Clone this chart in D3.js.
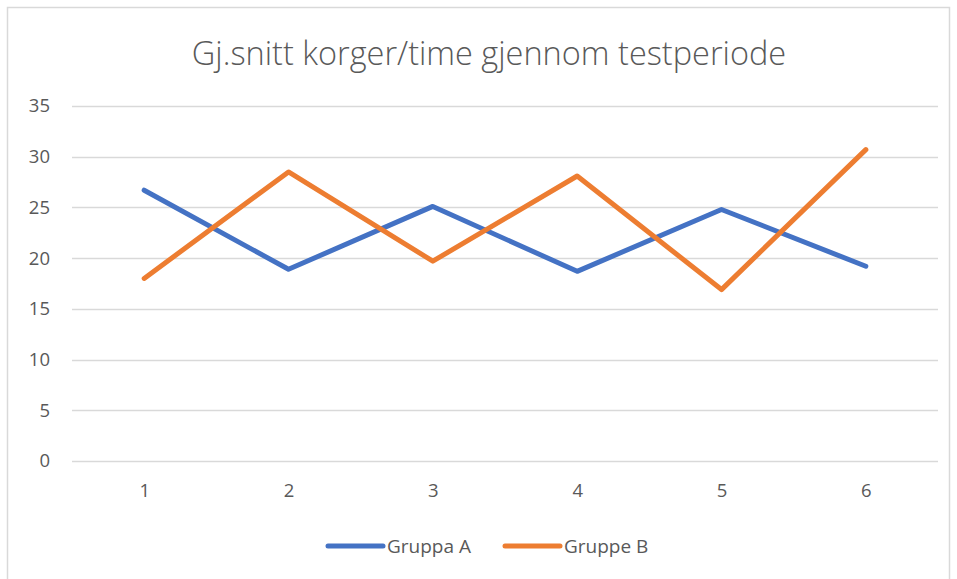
<!DOCTYPE html>
<html>
<head>
<meta charset="utf-8">
<script src="https://cdn.jsdelivr.net/npm/d3@7"></script>
<style>
  body { margin: 0; background: #fff; }
  text { font-family: "Open Sans", "Liberation Sans", sans-serif; fill: #595959; }
</style>
</head>
<body>
<div id="chart"></div>
<script>
var categories = ["1", "2", "3", "4", "5", "6"];
var gruppaA = [26.7, 18.9, 25.1, 18.7, 24.8, 19.2];
var gruppeB = [18.0, 28.5, 19.7, 28.1, 16.9, 30.7];
var yTicks = [0, 5, 10, 15, 20, 25, 30, 35];
var seriesNames = ["Gruppa A", "Gruppe B"];
var colors = ["#4472C4", "#ED7D31"];

var width = 957;
var height = 579;
var margin = { top: 106, right: 19, bottom: 118, left: 72 };

var svg = d3.select("#chart")
  .append("svg")
  .attr("width", width)
  .attr("height", height);

// chart border
svg.append("rect")
  .attr("x", 7.5)
  .attr("y", 7.5)
  .attr("width", 942)
  .attr("height", 580)
  .attr("fill", "#fff")
  .attr("stroke", "#d9d9d9")
  .attr("stroke-width", 1.5);

var x = d3.scalePoint()
  .domain(categories)
  .range([margin.left, width - margin.right])
  .padding(0.5);

var y = d3.scaleLinear()
  .domain([0, 35])
  .range([height - margin.bottom, margin.top]);

// gridlines
svg.append("g")
  .selectAll("line")
  .data(yTicks)
  .enter()
  .append("line")
  .attr("x1", margin.left)
  .attr("x2", width - margin.right)
  .attr("y1", function (d) { return Math.round(y(d)) + 0.5; })
  .attr("y2", function (d) { return Math.round(y(d)) + 0.5; })
  .attr("stroke", "#d9d9d9")
  .attr("stroke-width", 1.5);

// y labels
var yAxis = svg.append("g")
  .attr("transform", "translate(" + (margin.left - 22) + ",0)")
  .call(d3.axisLeft(y).tickValues(yTicks).tickSize(0).tickPadding(0));
yAxis.select(".domain").remove();
yAxis.selectAll("text")
  .attr("font-size", "18.5px")
  .attr("fill", "#595959");

// x labels
var xAxis = svg.append("g")
  .attr("transform", "translate(0," + (height - margin.bottom + 20) + ")")
  .call(d3.axisBottom(x).tickSize(0).tickPadding(3));
xAxis.select(".domain").remove();
xAxis.selectAll("text")
  .attr("font-size", "18.5px")
  .attr("fill", "#595959");

// lines
var line = d3.line()
  .x(function (d, i) { return x(categories[i]); })
  .y(function (d) { return y(d); });

[gruppaA, gruppeB].forEach(function (values, i) {
  svg.append("path")
    .datum(values)
    .attr("d", line)
    .attr("fill", "none")
    .attr("stroke", colors[i])
    .attr("stroke-width", 5)
    .attr("stroke-linejoin", "round")
    .attr("stroke-linecap", "round");
});

// title
svg.append("text")
  .attr("x", 489)
  .attr("y", 65)
  .attr("text-anchor", "middle")
  .attr("font-size", "32.5px")
  .attr("font-weight", 300)
  .attr("fill", "#595959")
  .text("Gj.snitt korger/time gjennom testperiode");

// legend
var legendX = [328, 505];
var legend = svg.append("g")
  .selectAll("g")
  .data(seriesNames)
  .enter()
  .append("g")
  .attr("transform", function (d, i) { return "translate(" + legendX[i] + ",546)"; });

legend.append("line")
  .attr("x1", 0)
  .attr("x2", 55)
  .attr("stroke", function (d, i) { return colors[i]; })
  .attr("stroke-width", 5)
  .attr("stroke-linecap", "round");

legend.append("text")
  .attr("x", 59)
  .attr("dy", "0.35em")
  .attr("font-size", "19px")
  .text(function (d) { return d; });
</script>
</body>
</html>
